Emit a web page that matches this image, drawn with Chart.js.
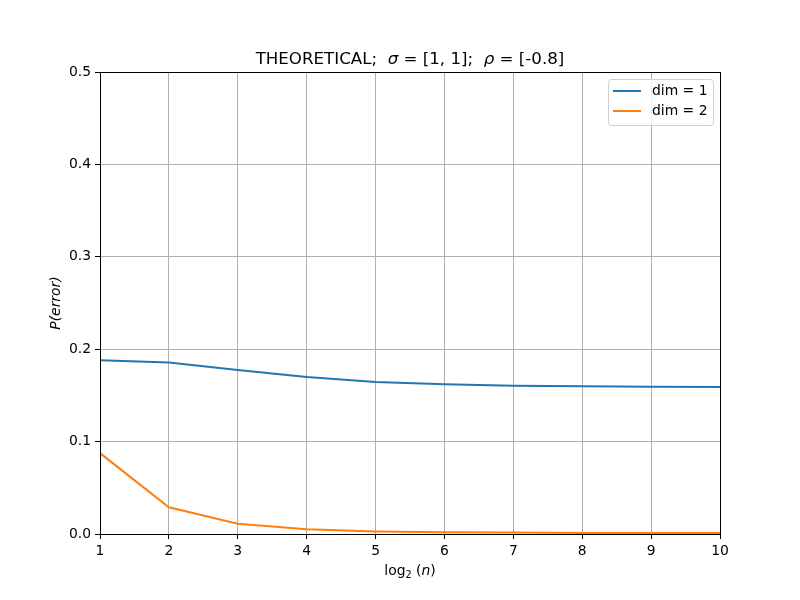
<!DOCTYPE html>
<html>
<head>
<meta charset="utf-8">
<script src="https://cdn.jsdelivr.net/npm/chart.js@4"></script>
<style>
  html, body { margin: 0; padding: 0; background: #fff; }
  #wrap { width: 800px; height: 600px; }
</style>
</head>
<body>
<div id="wrap"><canvas id="errChart" width="800" height="600"></canvas></div>
<script>
const logN = [1, 2, 3, 4, 5, 6, 7, 8, 9, 10];
const dim1 = [0.188, 0.1855, 0.1775, 0.170, 0.1645, 0.1622, 0.1605, 0.1598, 0.1594, 0.1591];
const dim2 = [0.0875, 0.029, 0.0112, 0.0051, 0.0027, 0.0019, 0.0015, 0.0012, 0.0011, 0.0010];
const seriesLabels = ['dim = 1', 'dim = 2'];
const yTicks = [0.0, 0.1, 0.2, 0.3, 0.4, 0.5];

const FONT = '"DejaVu Sans", sans-serif';

function pts(ys) {
    return logN.map(function(x, i) { return { x: x, y: ys[i] }; });
}

// title, axis labels, frame and legend drawn by hand (matplotlib look)
const decor = {
    id: 'decor',
    afterDraw(chart) {
        const ctx = chart.ctx;
        const a = chart.chartArea;
        ctx.save();

        // frame
        ctx.strokeStyle = '#000';
        ctx.lineWidth = 1;
        ctx.strokeRect(Math.round(a.left) + 0.5, Math.round(a.top) + 0.5,
            Math.round(a.right - a.left), Math.round(a.bottom - a.top));

        // title with italic greek letters
        const parts = [
            ['THEORETICAL;  ', false], ['σ', true], [' = [1, 1];  ', false],
            ['ρ', true], [' = [-0.8]', false]
        ];
        ctx.fillStyle = '#000';
        ctx.textBaseline = 'alphabetic';
        ctx.textAlign = 'left';
        let total = 0;
        parts.forEach(function(p) {
            ctx.font = (p[1] ? 'italic ' : '') + '16.67px ' + FONT;
            total += ctx.measureText(p[0]).width;
        });
        let x = (a.left + a.right) / 2 - total / 2;
        parts.forEach(function(p) {
            ctx.font = (p[1] ? 'italic ' : '') + '16.67px ' + FONT;
            ctx.fillText(p[0], x, 64);
            x += ctx.measureText(p[0]).width;
        });

        // x axis label: log2 (n)
        const xs = [
            ['log', '13.9px', 0, false], ['2', '9.7px', 3, false],
            [' (', '13.9px', 0, false], ['n', '13.9px', 0, true], [')', '13.9px', 0, false]
        ];
        total = 0;
        xs.forEach(function(p) {
            ctx.font = (p[3] ? 'italic ' : '') + p[1] + ' ' + FONT;
            total += ctx.measureText(p[0]).width;
        });
        x = (a.left + a.right) / 2 - total / 2;
        xs.forEach(function(p) {
            ctx.font = (p[3] ? 'italic ' : '') + p[1] + ' ' + FONT;
            ctx.fillText(p[0], x, 575 + p[2]);
            x += ctx.measureText(p[0]).width;
        });

        // y axis label
        ctx.save();
        ctx.translate(60, (a.top + a.bottom) / 2);
        ctx.rotate(-Math.PI / 2);
        ctx.textAlign = 'center';
        ctx.font = 'italic 13.9px ' + FONT;
        ctx.fillText('P(error)', 0, 0);
        ctx.restore();

        // legend box
        const bx = 608.5, by = 79.5, bw = 105, bh = 46, r = 3;
        ctx.beginPath();
        ctx.moveTo(bx + r, by);
        ctx.arcTo(bx + bw, by, bx + bw, by + bh, r);
        ctx.arcTo(bx + bw, by + bh, bx, by + bh, r);
        ctx.arcTo(bx, by + bh, bx, by, r);
        ctx.arcTo(bx, by, bx + bw, by, r);
        ctx.closePath();
        ctx.fillStyle = 'rgba(255,255,255,0.8)';
        ctx.fill();
        ctx.strokeStyle = '#d0d0d0';
        ctx.lineWidth = 1;
        ctx.stroke();

        ctx.font = '13.9px ' + FONT;
        ctx.textBaseline = 'middle';
        chart.data.datasets.forEach(function(ds, i) {
            const yy = 91 + i * 20;
            ctx.strokeStyle = ds.borderColor;
            ctx.lineWidth = 2;
            ctx.beginPath();
            ctx.moveTo(613, yy);
            ctx.lineTo(641, yy);
            ctx.stroke();
            ctx.fillStyle = '#000';
            ctx.fillText(ds.label, 652, yy);
        });

        ctx.restore();
    }
};

const ctx = document.getElementById('errChart').getContext('2d');
new Chart(ctx, {
    type: 'line',
    data: {
        datasets: [{
            label: seriesLabels[0],
            data: pts(dim1),
            borderColor: '#1f77b4',
            borderWidth: 2,
            pointRadius: 0,
            tension: 0,
            fill: false
        }, {
            label: seriesLabels[1],
            data: pts(dim2),
            borderColor: '#ff7f0e',
            borderWidth: 2,
            pointRadius: 0,
            tension: 0,
            fill: false
        }]
    },
    options: {
        responsive: false,
        animation: false,
        layout: { padding: { top: 72, right: 80, left: 0, bottom: 0 } },
        plugins: {
            legend: { display: false },
            title: { display: false },
            tooltip: { enabled: false }
        },
        scales: {
            x: {
                type: 'linear',
                min: 1,
                max: 10,
                afterFit: function(s) { s.height = 66; },
                ticks: {
                    stepSize: 1,
                    color: '#000',
                    padding: 4,
                    font: { family: FONT, size: 13.9 }
                },
                grid: { color: '#b0b0b0', lineWidth: 1, tickColor: '#000', tickLength: 5 },
                border: { display: false }
            },
            y: {
                min: 0,
                max: 0.5,
                afterFit: function(s) { s.width = 100; },
                afterBuildTicks: function(s) { s.ticks = yTicks.map(function(v) { return { value: v }; }); },
                ticks: {
                    color: '#000',
                    padding: 4,
                    font: { family: FONT, size: 13.9 },
                    callback: function(v) { return v.toFixed(1); }
                },
                grid: { color: '#b0b0b0', lineWidth: 1, tickColor: '#000', tickLength: 5 },
                border: { display: false }
            }
        }
    },
    plugins: [decor]
});
</script>
</body>
</html>
